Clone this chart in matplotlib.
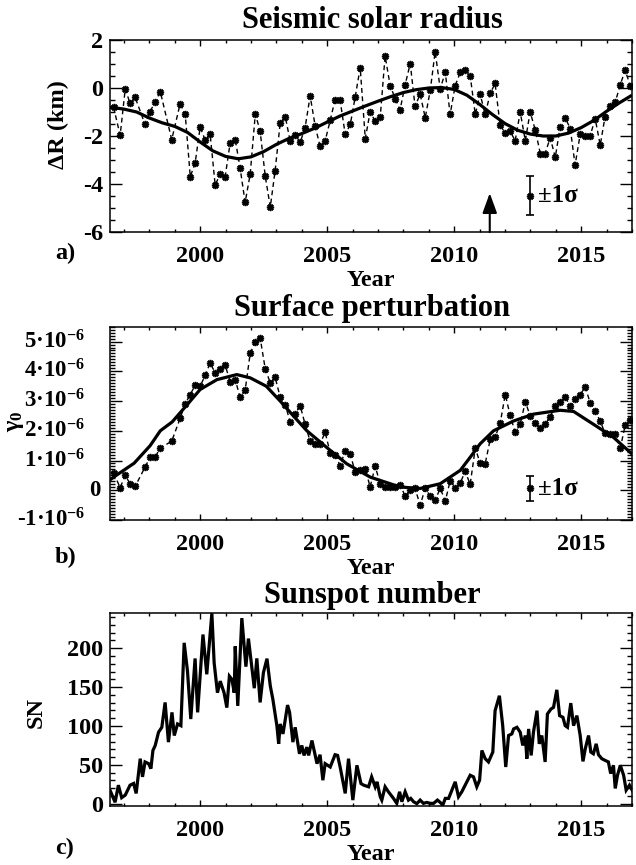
import numpy as np
import matplotlib
matplotlib.use('Agg')
import matplotlib.pyplot as plt
from matplotlib.ticker import MultipleLocator, FixedLocator, FixedFormatter, NullFormatter
from matplotlib.transforms import blended_transform_factory

# ---------------- data ----------------
# Panel a: seismic solar radius change (km)
a_year = [1996.59, 1996.85, 1997.05, 1997.24, 1997.44, 1997.83, 1998.03, 1998.22, 1998.43, 1998.88,
          1999.21, 1999.41, 1999.61, 1999.80, 2000.00, 2000.20, 2000.39, 2000.59, 2000.79, 2000.98,
          2001.18, 2001.38, 2001.57, 2001.77, 2001.97, 2002.17, 2002.36, 2002.56, 2002.76, 2002.95,
          2003.15, 2003.35, 2003.54, 2003.74, 2003.94, 2004.13, 2004.33, 2004.53, 2004.72, 2004.92,
          2005.12, 2005.31, 2005.51, 2005.71, 2005.91, 2006.10, 2006.30, 2006.50, 2006.69, 2006.89,
          2007.09, 2007.28, 2007.48, 2007.68, 2007.87, 2008.07, 2008.27, 2008.46, 2008.66, 2008.86,
          2009.06, 2009.25, 2009.45, 2009.65, 2009.84, 2010.04, 2010.24, 2010.43, 2010.63, 2010.83,
          2011.02, 2011.22, 2011.42, 2011.61, 2011.81, 2012.01, 2012.20, 2012.40, 2012.60, 2012.80,
          2012.99, 2013.19, 2013.39, 2013.58, 2013.78, 2013.98, 2014.17, 2014.37, 2014.57, 2014.76,
          2014.96, 2015.16, 2015.35, 2015.55, 2015.75, 2015.94, 2016.14, 2016.34, 2016.54, 2016.73,
          2016.93]
a_val = [-0.80, -1.97, -0.04, -0.64, -0.39, -1.52, -0.98, -0.59, -0.15, -2.15,
         -0.66, -1.08, -3.69, -3.14, -1.63, -2.18, -1.90, -4.04, -3.58, -3.72,
         -2.29, -2.15, -3.32, -4.77, -3.58, -1.08, -1.79, -3.66, -4.96, -3.45,
         -1.46, -1.19, -2.20, -1.95, -2.26, -1.65, -0.33, -1.60, -2.43, -2.20,
         -1.35, -0.48, -0.52, -1.93, -1.52, -0.39, 0.85, -2.11, -1.00, -1.38,
         -1.19, 1.33, 0.10, -0.45, -0.91, 0.14, 1.02, -0.77, -0.25, -1.24,
         -0.08, 1.51, -0.03, 0.65, -1.10, 0.10, 0.65, 0.74, 0.51, -1.10,
         -0.25, -1.10, -0.22, 0.19, -1.56, -1.87, -1.79, -2.20, -1.00, -2.20,
         -1.00, -1.74, -2.73, -2.73, -2.07, -2.89, -1.63, -1.24, -1.69, -3.21,
         -1.93, -2.00, -2.00, -1.28, -2.38, -1.19, -0.73, -0.59, 0.14, 0.74,
         0.10]
a_fit_year = [1996.45, 1997.0, 1997.5, 1998.0, 1998.5, 1999.0, 1999.5, 2000.0, 2000.5, 2001.0,
              2001.5, 2002.0, 2002.5, 2003.0, 2003.5, 2004.0, 2004.5, 2005.0, 2005.5, 2006.0,
              2006.5, 2007.0, 2007.5, 2008.0, 2008.5, 2009.0, 2009.5, 2010.0, 2010.5, 2011.0,
              2011.5, 2012.0, 2012.5, 2013.0, 2013.5, 2014.0, 2014.5, 2015.0, 2015.5, 2016.0,
              2016.5, 2017.0]
a_fit = [-0.80, -0.88, -1.00, -1.25, -1.45, -1.60, -1.85, -2.25, -2.62, -2.85,
         -2.95, -2.87, -2.65, -2.35, -2.10, -1.90, -1.68, -1.42, -1.17, -0.96,
         -0.75, -0.55, -0.36, -0.19, -0.07, 0.00, 0.02, -0.06, -0.30, -0.68,
         -1.10, -1.48, -1.76, -1.92, -2.00, -2.00, -1.88, -1.65, -1.35, -0.97,
         -0.62, -0.30]

# Panel b: surface perturbation gamma_0 (units of 1e-6)
b_year = a_year
b_val_e6 = [0.58, 0.09, 0.50, 0.22, 0.13, 0.78, 1.11, 1.11, 1.42, 1.65,
            2.42, 2.91, 3.22, 3.53, 3.50, 3.87, 4.28, 3.95, 4.09, 4.22,
            3.65, 3.72, 3.13, 3.36, 4.61, 4.98, 5.13, 4.09, 3.61, 3.80,
            3.13, 2.87, 2.31, 2.58, 2.84, 2.22, 1.65, 1.56, 1.56, 1.95,
            1.25, 1.20, 0.83, 1.33, 1.22, 0.61, 0.69, 0.73, 0.11, 0.80,
            0.22, 0.11, 0.11, 0.11, 0.19, -0.20, 0.00, 0.06, -0.50, 0.06,
            -0.20, -0.33, 0.06, -0.36, 0.31, 0.09, 0.24, 0.64, 0.20, 1.42,
            0.91, 0.89, 1.72, 1.78, 2.25, 3.22, 2.53, 1.95, 2.22, 2.98,
            2.50, 2.25, 2.09, 2.22, 2.47, 2.84, 2.98, 3.13, 2.84, 3.06,
            3.22, 3.47, 2.95, 2.65, 2.33, 1.91, 1.89, 1.89, 1.42, 2.18,
            2.36]
b_fit_year = [1996.45, 1996.59, 1997.4, 1998.03, 1998.43, 1998.9, 1999.5, 2000.0, 2000.66, 2001.44,
              2001.97, 2002.6, 2003.15, 2003.67, 2004.2, 2004.98, 2005.77, 2006.7, 2007.09, 2007.87,
              2008.66, 2009.45, 2010.24, 2010.63, 2011.02, 2011.55, 2012.34, 2013.12, 2014.17, 2014.7,
              2015.48, 2016.27, 2017.0]
b_fit_e6 = [0.35, 0.44, 0.91, 1.50, 2.00, 2.30, 2.89, 3.39, 3.72, 3.89,
            3.78, 3.50, 3.00, 2.50, 2.00, 1.44, 0.89, 0.44, 0.33, 0.11,
            0.06, 0.22, 0.67, 1.11, 1.56, 2.00, 2.33, 2.56, 2.69, 2.65,
            2.22, 1.78, 1.22]

# Panel c: sunspot number
c_year = [1996.46, 1996.65, 1996.78, 1996.91, 1997.05, 1997.24, 1997.38, 1997.48, 1997.64, 1997.73,
          1997.83, 1997.97, 1998.06, 1998.14, 1998.23, 1998.36, 1998.49, 1998.62, 1998.75, 1998.89,
          1998.98, 1999.11, 1999.24, 1999.37, 1999.50, 1999.63, 1999.80, 1999.90, 2000.11, 2000.26,
          2000.46, 2000.55, 2000.68, 2000.79, 2000.94, 2001.05, 2001.15, 2001.25, 2001.34, 2001.38,
          2001.48, 2001.64, 2001.80, 2001.90, 2002.03, 2002.13, 2002.23, 2002.36, 2002.49, 2002.63,
          2002.76, 2002.86, 2003.02, 2003.09, 2003.15, 2003.26, 2003.44, 2003.52, 2003.65, 2003.74,
          2003.91, 2004.00, 2004.09, 2004.20, 2004.27, 2004.40, 2004.53, 2004.60, 2004.72, 2004.83,
          2004.92, 2005.12, 2005.31, 2005.41, 2005.51, 2005.71, 2005.84, 2006.01, 2006.17, 2006.33,
          2006.43, 2006.63, 2006.75, 2006.89, 2006.96, 2007.09, 2007.15, 2007.28, 2007.41, 2007.61,
          2007.74, 2007.85, 2007.94, 2008.07, 2008.20, 2008.29, 2008.40, 2008.53, 2008.66, 2008.79,
          2008.92, 2009.06, 2009.19, 2009.34, 2009.45, 2009.55, 2009.65, 2009.78, 2009.91, 2010.04,
          2010.17, 2010.30, 2010.50, 2010.63, 2010.76, 2010.89, 2011.00, 2011.09, 2011.22, 2011.35,
          2011.52, 2011.61, 2011.78, 2011.91, 2012.03, 2012.14, 2012.27, 2012.34, 2012.47, 2012.60,
          2012.70, 2012.80, 2012.86, 2012.93, 2013.03, 2013.12, 2013.26, 2013.35, 2013.45, 2013.58,
          2013.67, 2013.81, 2013.91, 2014.04, 2014.15, 2014.28, 2014.37, 2014.46, 2014.59, 2014.70,
          2014.83, 2014.96, 2015.07, 2015.16, 2015.29, 2015.38, 2015.48, 2015.59, 2015.68, 2015.81,
          2015.94, 2016.07, 2016.16, 2016.27, 2016.34, 2016.43, 2016.54, 2016.67, 2016.77, 2016.90,
          2017.04]
c_sn = [16.6, 1.8, 23.8, 7.7, 11.0, 23.8, 26.0, 13.2, 57.9, 34.5,
        53.7, 51.5, 45.1, 68.5, 74.9, 91.9, 98.3, 130.3, 79.2, 117.5,
        87.7, 102.6, 100.4, 207.0, 170.8, 108.9, 186.9, 117.5, 217.7, 166.5,
        245.0, 181.2, 142.8, 157.7, 142.8, 123.6, 164.1, 159.9, 142.8, 202.5,
        125.8, 238.8, 176.3, 212.5, 176.3, 148.6, 187.0, 130.3, 168.7, 186.6,
        151.6, 134.6, 100.4, 77.0, 102.6, 89.8, 126.9, 117.5, 79.2, 98.3,
        64.2, 74.9, 62.1, 72.8, 62.1, 81.3, 62.1, 51.5, 63.0, 30.2,
        51.5, 47.2, 63.0, 62.1, 47.2, 13.2, 57.9, 4.6, 49.4, 25.9,
        23.9, 21.7, 34.5, 21.7, 28.1, 8.9, 4.6, 21.7, 15.3, 6.8,
        0.4, 15.3, 2.5, 15.3, 4.6, 6.8, 2.5, 0.0, 4.6, 0.4,
        1.6, 0.4, 0.4, 4.6, 1.6, -2.0, 6.8, 6.8, 17.4, 28.1,
        8.9, 15.3, 28.1, 36.6, 34.5, 21.7, 30.2, 68.5, 57.9, 53.7,
        66.4, 119.7, 138.9, 100.4, 47.2, 87.7, 89.8, 96.2, 98.3, 91.9,
        74.9, 87.7, 57.9, 96.2, 62.1, 91.9, 119.7, 77.0, 87.7, 53.7,
        115.4, 121.8, 123.9, 146.5, 113.3, 111.2, 100.4, 98.3, 129.4, 100.4,
        113.3, 87.7, 54.4, 70.6, 87.7, 66.4, 64.2, 77.0, 63.0, 57.9,
        55.7, 53.7, 38.8, 49.4, 19.6, 36.6, 49.4, 36.6, 17.4, 23.8,
        15.3]

# error bar samples and arrow
eb_year = 2013.0
eb_a_center, eb_a_sigma = -4.48, 0.83
eb_b_center_e6, eb_b_sigma_e6 = 0.06, 0.43
arrow_year, arrow_tip = 2011.4, -4.38

year_ticks = [2000, 2005, 2010, 2015]
year_labels = ['2000', '2005', '2010', '2015']
a_yticks = [-6, -4, -2, 0, 2]
a_ylabels = ['-6', '-4', '-2', '0', '2']
b_yticks_e6 = [-1, 0, 1, 2, 3, 4, 5]
b_ylabels = ['-1·10$^{\\mathrm{-6}}$', '0', '1·10$^{-6}$', '2·10$^{-6}$',
             '3·10$^{-6}$', '4·10$^{-6}$', '5·10$^{-6}$']
c_yticks = [0, 50, 100, 150, 200]
c_ylabels = ['0', '50', '100', '150', '200']
E6 = 1e-6

# ---------------- style ----------------
plt.rcParams['font.family'] = ['Liberation Serif', 'DejaVu Serif']
plt.rcParams['font.weight'] = 'bold'
plt.rcParams['axes.labelweight'] = 'bold'
plt.rcParams['mathtext.fontset'] = 'custom'
plt.rcParams['mathtext.rm'] = 'Liberation Serif:bold'
plt.rcParams['mathtext.it'] = 'Liberation Serif:italic:bold'
plt.rcParams['mathtext.bf'] = 'Liberation Serif:bold'
plt.rcParams['mathtext.default'] = 'rm'
plt.rcParams['axes.unicode_minus'] = False

W, H = 636, 865
fig = plt.figure(figsize=(W / 100, H / 100), dpi=100)
AX_L, AX_R = 110, 632

def rect(top, bottom, left=AX_L, right=AX_R):
    return [left / W, 1 - bottom / H, (right - left) / W, (bottom - top) / H]

axa = fig.add_axes(rect(40, 232))
axb = fig.add_axes(rect(326.7, 520))
axc = fig.add_axes(rect(613.3, 806))

FS = 17.5

def style(ax):
    ax.set_xlim(1996.45, 2017.0)
    ax.xaxis.set_major_locator(FixedLocator(year_ticks))
    ax.xaxis.set_major_formatter(FixedFormatter(year_labels))
    ax.xaxis.set_minor_locator(MultipleLocator(1))
    ax.tick_params(which='both', direction='in', top=True, right=True, width=1.0,
                   labelsize=FS)
    ax.tick_params(axis='x', which='major', length=4, pad=10)
    ax.tick_params(axis='x', which='minor', length=2.2)
    ax.tick_params(axis='y', which='major', length=8.5, pad=5)
    ax.tick_params(axis='y', which='minor', length=3.6)
    for s in ax.spines.values():
        s.set_linewidth(1.1)
    ax.set_xlabel('Year', fontsize=FS, labelpad=2)

marker = (8, 2, 0)
MS, MEW = 5.2, 1.2

# Panel a
axa.plot(a_year, a_val, color='k', lw=1.0, linestyle=(0, (3.5, 2.5)),
         marker=marker, ms=MS, mew=MEW)
axa.plot(a_fit_year, a_fit, color='k', lw=2.3, solid_capstyle='butt')
axa.errorbar([eb_year], [eb_a_center], yerr=[eb_a_sigma], fmt='none', ecolor='k',
             elinewidth=1.2, capsize=3, capthick=1.2)
axa.plot([eb_year], [eb_a_center], color='k', marker=marker, ms=MS, mew=MEW)
axa.text(eb_year + 0.3, eb_a_center, '±1σ', fontsize=18, va='center', ha='left')
axa.annotate('', xy=(arrow_year, arrow_tip), xytext=(arrow_year, -6.0),
             arrowprops=dict(arrowstyle='-|>,head_length=0.55,head_width=0.2',
                             color='k', lw=1.5, mutation_scale=22, shrinkA=0, shrinkB=0))
axa.set_ylim(-6, 2)
axa.yaxis.set_major_locator(FixedLocator(a_yticks))
axa.yaxis.set_major_formatter(FixedFormatter(a_ylabels))
axa.yaxis.set_minor_locator(MultipleLocator(0.5))
style(axa)

# Panel b
axb.plot(b_year, np.array(b_val_e6) * E6, color='k', lw=1.0, linestyle=(0, (3.5, 2.5)),
         marker=marker, ms=MS, mew=MEW)
axb.plot(b_fit_year, np.array(b_fit_e6) * E6, color='k', lw=2.3)
axb.errorbar([eb_year], [eb_b_center_e6 * E6], yerr=[eb_b_sigma_e6 * E6], fmt='none',
             ecolor='k', elinewidth=1.2, capsize=3, capthick=1.2)
axb.plot([eb_year], [eb_b_center_e6 * E6], color='k', marker=marker, ms=MS, mew=MEW)
axb.text(eb_year + 0.3, eb_b_center_e6 * E6, '±1σ', fontsize=18, va='center', ha='left')
axb.set_ylim(-1.0 * E6, 5.5 * E6)
axb.yaxis.set_major_locator(FixedLocator([v * E6 for v in b_yticks_e6]))
axb.yaxis.set_major_formatter(NullFormatter())
axb.yaxis.set_minor_locator(MultipleLocator(0.1 * E6))
style(axb)
# tick labels of panel b (IDL-style placement: exponent labels sit further left)
tb = blended_transform_factory(axb.transAxes, axb.transData)
for v, lab in zip(b_yticks_e6, b_ylabels):
    xr = (101 - AX_L) / (AX_R - AX_L) if lab == '0' else (85 - AX_L) / (AX_R - AX_L)
    axb.text(xr, v * E6, lab, transform=tb, ha='right', va='center', fontsize=16.5)

# Panel c
axc.plot(c_year, c_sn, color='k', lw=2.3, solid_joinstyle='miter')
axc.set_ylim(-3, 245)
axc.yaxis.set_major_locator(FixedLocator(c_yticks))
axc.yaxis.set_major_formatter(FixedFormatter(c_ylabels))
axc.yaxis.set_minor_locator(MultipleLocator(10))
style(axc)

# titles, y labels, panel letters
def ftext(x, y, s, **kw):
    fig.text(x / W, 1 - y / H, s, **kw)

ftext(372, 28, 'Seismic solar radius', ha='center', va='baseline', fontsize=22)
ftext(372, 316, 'Surface perturbation', ha='center', va='baseline', fontsize=22)
ftext(372, 603, 'Sunspot number', ha='center', va='baseline', fontsize=22)

ftext(58, 125, 'ΔR (km)', rotation=90, ha='center', va='center', fontsize=FS)
ftext(15, 421, r'$\gamma_0$', rotation=90, ha='center', va='center', fontsize=FS)
ftext(36, 712, 'SN', rotation=90, ha='center', va='center', fontsize=FS)

ftext(55, 259, 'a)', ha='left', va='baseline', fontsize=FS)
ftext(55, 563, 'b)', ha='left', va='baseline', fontsize=FS)
ftext(55, 854, 'c)', ha='left', va='baseline', fontsize=FS)

fig.savefig('out.png', dpi=100)
